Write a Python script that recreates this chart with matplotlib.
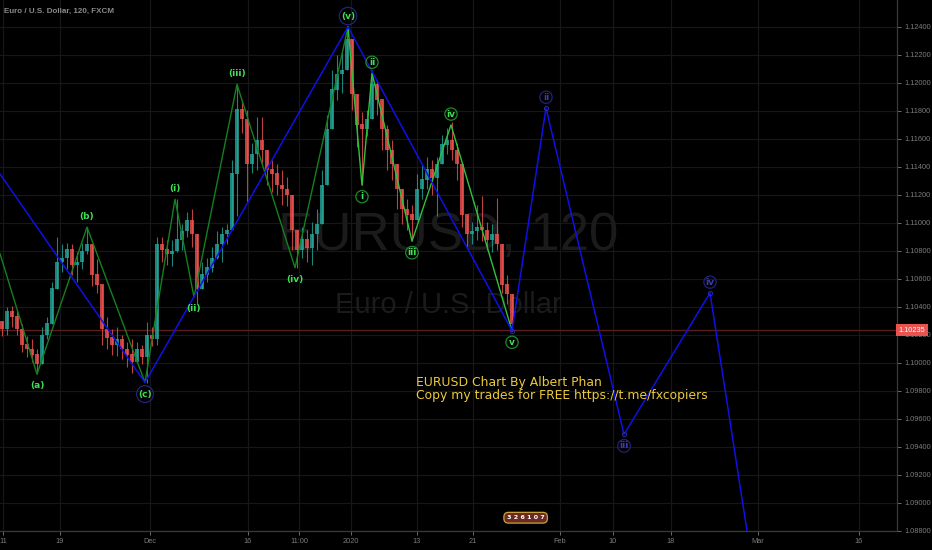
import numpy as np
import matplotlib.pyplot as plt

# price bars (one bar per slot, left to right)
highs = [1.1029, 1.1040, 1.1041, 1.1037, 1.1028, 1.1019, 1.1017, 1.1010, 1.1026, 1.1033,
         1.1058, 1.1090, 1.1085, 1.1086, 1.1085, 1.1079, 1.1086, 1.1097, 1.1082, 1.1074,
         1.1035, 1.1033, 1.1024, 1.1026, 1.1020, 1.1015, 1.1017, 1.1015, 1.1013, 1.1029,
         1.1026, 1.1090, 1.1090, 1.1088, 1.1088, 1.1117, 1.1099, 1.1108, 1.1110, 1.1063,
         1.1072, 1.1075, 1.1083, 1.1094, 1.1097, 1.1099, 1.1145, 1.1199, 1.1188, 1.1181,
         1.1157, 1.1176, 1.1176, 1.1152, 1.1145, 1.1142, 1.1138, 1.1133, 1.1117, 1.1095,
         1.1097, 1.1095, 1.1101, 1.1110, 1.1138, 1.1177, 1.1209, 1.1220, 1.1222, 1.1240,
         1.1231, 1.1192, 1.1179, 1.1181, 1.1209, 1.1202, 1.1188, 1.1170, 1.1159, 1.1142,
         1.1120, 1.1117, 1.1113, 1.1135, 1.1142, 1.1147, 1.1145, 1.1147, 1.1163, 1.1168,
         1.1172, 1.1157, 1.1142, 1.1102, 1.1101, 1.1113, 1.1119, 1.1101, 1.1099, 1.1118,
         1.1067, 1.1063, 1.1045]
lows = [1.1019, 1.1020, 1.1026, 1.1020, 1.1008, 1.1004, 1.1001, 1.0992, 1.1003, 1.1017,
        1.1036, 1.1053, 1.1065, 1.1067, 1.1063, 1.1058, 1.1067, 1.1078, 1.1055, 1.1050,
        1.1013, 1.1010, 1.1006, 1.1005, 1.1003, 1.0997, 1.0993, 1.1000, 1.0999, 1.0986,
        1.1012, 1.1013, 1.1072, 1.1070, 1.1069, 1.1079, 1.1081, 1.1090, 1.1083, 1.1042,
        1.1053, 1.1058, 1.1065, 1.1074, 1.1072, 1.1085, 1.1107, 1.1105, 1.1164, 1.1115,
        1.1136, 1.1138, 1.1142, 1.1127, 1.1122, 1.1120, 1.1113, 1.1112, 1.1081, 1.1068,
        1.1075, 1.1072, 1.1070, 1.1081, 1.1102, 1.1127, 1.1167, 1.1188, 1.1193, 1.1217,
        1.1181, 1.1154, 1.1127, 1.1162, 1.1184, 1.1177, 1.1152, 1.1138, 1.1131, 1.1110,
        1.1099, 1.1095, 1.1087, 1.1110, 1.1117, 1.1124, 1.1120, 1.1105, 1.1145, 1.1149,
        1.1145, 1.1131, 1.1097, 1.1083, 1.1085, 1.1088, 1.1087, 1.1081, 1.1079, 1.1081,
        1.1050, 1.1042, 1.1023]
closes = [1.1024, 1.1037, 1.1033, 1.1024, 1.1013, 1.1010, 1.1006, 1.0999, 1.1020, 1.1028,
          1.1053, 1.1072, 1.1075, 1.1081, 1.1070, 1.1072, 1.1080, 1.1085, 1.1063, 1.1056,
          1.1024, 1.1018, 1.1013, 1.1017, 1.1010, 1.1006, 1.1001, 1.1010, 1.1004, 1.1020,
          1.1017, 1.1085, 1.1081, 1.1078, 1.1080, 1.1088, 1.1094, 1.1102, 1.1092, 1.1053,
          1.1063, 1.1068, 1.1075, 1.1085, 1.1092, 1.1095, 1.1135, 1.1181, 1.1174, 1.1142,
          1.1149, 1.1159, 1.1152, 1.1138, 1.1135, 1.1127, 1.1124, 1.1120, 1.1095, 1.1081,
          1.1088, 1.1082, 1.1092, 1.1099, 1.1127, 1.1167, 1.1195, 1.1206, 1.1209, 1.1231,
          1.1192, 1.1170, 1.1167, 1.1174, 1.1199, 1.1188, 1.1167, 1.1152, 1.1142, 1.1124,
          1.1110, 1.1106, 1.1102, 1.1124, 1.1131, 1.1138, 1.1132, 1.1142, 1.1156, 1.1159,
          1.1152, 1.1142, 1.1106, 1.1092, 1.1094, 1.1097, 1.1095, 1.1088, 1.1092, 1.1085,
          1.1056, 1.1049, 1.1028]
first_open = 1.1030
last_price = 1.10235

# Elliott wave pivots (x in bar slots, y price)
minor_x = [-0.4, 7.0, 17.0, 28.6, 34.6, 38.4, 47.0, 58.6, 69.2]
minor_y = [1.1078, 1.0992, 1.1097, 1.0986, 1.1117, 1.1047, 1.1199, 1.1068, 1.1240]
minor_lbl = ['', '(a)', '(b)', '(c)', '(i)', '(ii)', '(iii)', '(iv)', '(v)']
sub_x = [69.2, 72.0, 74.0, 82.0, 89.8, 102.0]
sub_y = [1.1240, 1.1127, 1.1207, 1.1087, 1.1170, 1.1023]
sub_lbl = ['', 'i', 'ii', 'iii', 'iv', 'v']
main_x = [-0.4, 28.6, 69.2, 102.0, 108.8, 124.4, 141.6, 151.1]
main_y = [1.1135, 1.0986, 1.1240, 1.1023, 1.1182, 1.0949, 1.1050, 1.0832]
main_lbl = ['', '', '', '', 'ii', 'iii', 'iv', '']

tick_pos = [0.2, 11.6, 29.6, 49.2, 59.4, 69.8, 83.0, 94.2, 111.6, 122.2, 133.8, 151.2, 171.4]
tick_lbl = ['11', '19', 'Dec', '16', '11:00', '2020', '13', '21', 'Feb', '10', '18', 'Mar', '16']
price_ticks = np.arange(1.088, 1.1245, 0.002)

BG = '#000000'
UP, DOWN = '#26a69a', '#ef5350'
LBL_GREEN = '#3ee056'
NAVY = '#22227c'

fig = plt.figure(figsize=(9.32, 5.5), dpi=100, facecolor=BG)
ax = fig.add_axes([0, 19 / 550, 897 / 932, 531 / 550], facecolor=BG)

# watermark
ax.text(0.5, 0.555, 'EURUSD, 120', transform=ax.transAxes, ha='center', va='center',
        fontsize=38, color='#1b1b1b', family='Liberation Sans', zorder=1)
ax.text(0.5, 0.425, 'Euro / U.S. Dollar', transform=ax.transAxes, ha='center', va='center',
        fontsize=21, color='#1b1b1b', family='Liberation Sans', zorder=1)

# candles
xs = np.arange(len(closes))
c = np.array(closes)
o = np.array([first_open] + closes[:-1])
hi = np.maximum(np.array(highs), np.maximum(o, c))
lo = np.minimum(np.array(lows), np.minimum(o, c))
cols = [UP if cc >= oo else DOWN for oo, cc in zip(o, c)]
ax.vlines(xs, lo, hi, colors=cols, lw=0.8, alpha=0.8, zorder=3)
ax.bar(xs, np.abs(c - o) + 0.00003, bottom=np.minimum(o, c), width=0.75,
       color=cols, alpha=0.8, zorder=3, linewidth=0)

# last price line
ax.axhline(last_price, color='#5a1c1c', lw=1, zorder=2)

# wave lines
ax.plot(minor_x, minor_y, color='#15801f', lw=1, zorder=4)
ax.plot(sub_x, sub_y, color='#2fc23c', lw=1, zorder=4)
ax.plot(main_x, main_y, color='#1010e6', lw=1.1, zorder=5)
ax.plot(main_x[3:7], main_y[3:7], 'o', ms=3, mfc='none', mec='#2a2aa0', mew=0.7, zorder=5)


def wave_labels(px, py, names, text_color, ring, circled=None):
    for k, name in enumerate(names):
        if not name:
            continue
        prev = py[k - 1] if k > 0 else py[k + 1]
        up = py[k] > prev
        off = 7.8 if up else -8.3
        bbox = None
        edge = ring
        if circled is not None and name in circled:
            edge = circled[name]
        if edge:
            bbox = dict(boxstyle='circle,pad=0.18', fc='none', ec=edge, lw=0.9)
        ax.annotate(name, (px[k], py[k]), xytext=(0, off), textcoords='offset points',
                    ha='center', va='center', fontsize=6.5, fontweight='bold',
                    color=text_color, bbox=bbox, zorder=7)


wave_labels(minor_x, minor_y, minor_lbl, LBL_GREEN, None, {'(c)': NAVY, '(v)': NAVY})
wave_labels(sub_x, sub_y, sub_lbl, LBL_GREEN, '#1d8a2a')
wave_labels(main_x, main_y, main_lbl, '#3c3cb0', NAVY)

# author note
ax.text(82.8, 1.0991, 'EURUSD Chart By Albert Phan\nCopy my trades for FREE https://t.me/fxcopiers',
        ha='left', va='top', fontsize=8.9, color='#ecca3c', linespacing=1.05, zorder=8)

# title
ax.text(0.005, 0.978, 'Euro / U.S. Dollar, 120, FXCM', transform=ax.transAxes,
        ha='left', va='center', fontsize=5.8, color='#8a8a8a', family='Liberation Sans',
        fontweight='bold', zorder=8)

# small badge near the bottom
ax.text(0.586, 0.025, '3 2 6 1 0 7', transform=ax.transAxes, ha='center', va='center',
        fontsize=4.6, color='white', fontweight='bold', zorder=8,
        bbox=dict(boxstyle='round,pad=0.45,rounding_size=0.7', fc='#6a2a22', ec='#c9a23a', lw=0.9))

# axes
ax.set_xlim(-0.4, 179.0)
ax.set_ylim(1.08808, 1.12592)
ax.yaxis.tick_right()
ax.set_yticks(price_ticks)
ax.set_yticklabels([f'{v:.5f}' for v in price_ticks])
ax.set_xticks(tick_pos)
ax.set_xticklabels(tick_lbl)
ax.tick_params(colors='#7c7c7c', labelsize=5.3, length=3, width=0.6, pad=2)
for lab in ax.get_xticklabels() + ax.get_yticklabels():
    lab.set_family('Liberation Sans')
ax.grid(True, color='#171717', lw=0.9, zorder=0)
ax.set_axisbelow(True)
for side in ['top', 'left']:
    ax.spines[side].set_visible(False)
for side in ['right', 'bottom']:
    ax.spines[side].set_color('#3a3a3a')
    ax.spines[side].set_linewidth(0.9)

ax.text(1.0015, last_price, f'{last_price:.5f}', transform=ax.get_yaxis_transform(),
        ha='left', va='center', fontsize=5.3, color='white', family='Liberation Sans',
        bbox=dict(boxstyle='square,pad=0.35', fc='#e8524f', ec='none'),
        clip_on=False, zorder=9)

fig.savefig('out.png', dpi=100, facecolor=BG)
